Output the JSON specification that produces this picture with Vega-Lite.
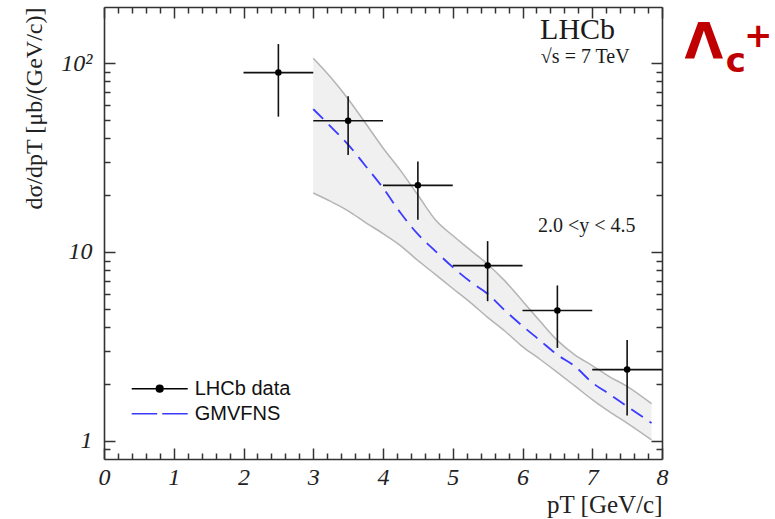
{
  "$schema": "https://vega.github.io/schema/vega-lite/v6.json",
  "width": 558,
  "height": 452,
  "autosize": {"type": "none"},
  "padding": {"left": 104, "top": 7, "right": 113, "bottom": 60},
  "background": "white",
  "config": {
    "view": {"stroke": null},
    "axis": {"grid": false, "labelFlush": false, "labelOverlap": false, "labelBound": false, "tickColor": "#333", "tickWidth": 1.5, "domainColor": "#333", "domainWidth": 1.6}
  },
  "datasets": {
    "pts": [
      {"pT": 2.5, "val": 89, "lo": 52, "hi": 126, "xlo": 2, "xhi": 3},
      {"pT": 3.5, "val": 49.5, "lo": 32.6, "hi": 66.6, "xlo": 3, "xhi": 4},
      {"pT": 4.5, "val": 22.5, "lo": 14.8, "hi": 30.1, "xlo": 4, "xhi": 5},
      {"pT": 5.5, "val": 8.46, "lo": 5.48, "hi": 11.4, "xlo": 5, "xhi": 6},
      {"pT": 6.5, "val": 4.89, "lo": 3.1, "hi": 6.64, "xlo": 6, "xhi": 7},
      {"pT": 7.5, "val": 2.38, "lo": 1.36, "hi": 3.41, "xlo": 7, "xhi": 8}
    ],
    "band": [
      {"pT": 3.0, "lo": 20.5, "mid": 57, "hi": 106},
      {"pT": 3.25, "lo": 18.5, "mid": 46.1, "hi": 84},
      {"pT": 3.5, "lo": 16.5, "mid": 37, "hi": 64.5},
      {"pT": 3.75, "lo": 14.3, "mid": 28.5, "hi": 48},
      {"pT": 4.0, "lo": 12.5, "mid": 21.8, "hi": 35.5},
      {"pT": 4.25, "lo": 10.8, "mid": 16.1, "hi": 27},
      {"pT": 4.5, "lo": 9.0, "mid": 12.4, "hi": 20},
      {"pT": 4.75, "lo": 7.6, "mid": 10.1, "hi": 14.8},
      {"pT": 5.0, "lo": 6.4, "mid": 8.3, "hi": 12.2},
      {"pT": 5.25, "lo": 5.4, "mid": 6.96, "hi": 10.25},
      {"pT": 5.5, "lo": 4.5, "mid": 6.0, "hi": 8.6},
      {"pT": 5.75, "lo": 3.8, "mid": 4.89, "hi": 7.0},
      {"pT": 6.0, "lo": 3.15, "mid": 4.05, "hi": 5.5},
      {"pT": 6.25, "lo": 2.7, "mid": 3.4, "hi": 4.3},
      {"pT": 6.5, "lo": 2.3, "mid": 2.85, "hi": 3.4},
      {"pT": 6.75, "lo": 1.95, "mid": 2.48, "hi": 2.85},
      {"pT": 7.0, "lo": 1.65, "mid": 2.03, "hi": 2.5},
      {"pT": 7.25, "lo": 1.42, "mid": 1.76, "hi": 2.18},
      {"pT": 7.5, "lo": 1.24, "mid": 1.52, "hi": 1.94},
      {"pT": 7.85, "lo": 1.01, "mid": 1.24, "hi": 1.57}
    ]
  },
  "layer": [
    {
      "data": {"name": "band"},
      "mark": {"type": "area", "color": "#f0f0f0", "opacity": 1, "interpolate": "monotone"},
      "encoding": {
        "x": {"field": "pT", "type": "quantitative", "scale": {"domain": [0, 8], "nice": false, "zero": false},
          "axis": {"orient": "bottom", "values": [0, 1, 2, 3, 4, 5, 6, 7, 8], "ticks": false, "domain": true,
            "labelFont": "Liberation Serif", "labelFontStyle": "italic", "labelFontSize": 24, "labelColor": "#222", "labelPadding": 6,
            "title": "pT [GeV/c]", "titleFont": "Liberation Serif", "titleFontSize": 25, "titleFontWeight": "normal", "titleColor": "#222",
            "titleX": 558, "titleY": 53, "titleAlign": "right", "titleBaseline": "alphabetic"}},
        "y": {"field": "lo", "type": "quantitative", "scale": {"type": "log", "domain": [0.8, 198], "nice": false},
          "axis": {"orient": "left", "values": [1, 10, 100], "ticks": false, "domain": true,
            "labelExpr": "datum.value == 100 ? '10²' : datum.value == 10 ? '10' : '1'",
            "labelFont": "Liberation Serif", "labelFontStyle": "italic", "labelFontSize": 24, "labelColor": "#222", "labelPadding": 12,
            "title": "dσ/dpT [μb/(GeV/c)]", "titleFont": "Liberation Serif", "titleFontSize": 24, "titleFontWeight": "normal", "titleColor": "#222",
            "titleX": -70, "titleY": 0, "titleAlign": "right", "titleAngle": 270, "titleBaseline": "middle"}},
        "y2": {"field": "hi"}
      }
    },
    {
      "data": {"name": "band"},
      "mark": {"type": "line", "color": "#b4b4b4", "strokeWidth": 1.5, "interpolate": "monotone"},
      "encoding": {
        "x": {"field": "pT", "type": "quantitative",
          "axis": {"orient": "bottom", "values": [0, 1, 2, 3, 4, 5, 6, 7, 8], "tickSize": -11, "labels": false, "domain": false, "title": null}},
        "y": {"field": "hi", "type": "quantitative",
          "axis": {"orient": "left", "values": [1, 10, 100], "tickSize": -11, "labels": false, "domain": false, "title": null}}
      }
    },
    {
      "data": {"name": "band"},
      "mark": {"type": "line", "color": "#b4b4b4", "strokeWidth": 1.5, "interpolate": "monotone"},
      "encoding": {
        "x": {"field": "pT", "type": "quantitative",
          "axis": {"orient": "bottom", "values": [0.2,0.4,0.6,0.8,1.2,1.4,1.6,1.8,2.2,2.4,2.6,2.8,3.2,3.4,3.6,3.8,4.2,4.4,4.6,4.8,5.2,5.4,5.6,5.8,6.2,6.4,6.6,6.8,7.2,7.4,7.6,7.8], "tickSize": -6, "labels": false, "domain": false, "title": null}},
        "y": {"field": "lo", "type": "quantitative",
          "axis": {"orient": "left", "values": [0.9,2,3,4,5,6,7,8,9,20,30,40,50,60,70,80,90], "tickSize": -6, "labels": false, "domain": false, "title": null}}
      }
    },
    {
      "data": {"name": "band"},
      "mark": {"type": "line", "strokeDash": [14, 8], "strokeWidth": 1.8, "interpolate": "monotone"},
      "encoding": {
        "x": {"field": "pT", "type": "quantitative",
          "axis": {"orient": "top", "values": [0, 1, 2, 3, 4, 5, 6, 7, 8], "tickSize": -11, "labels": false, "domain": true, "title": null}},
        "y": {"field": "mid", "type": "quantitative",
          "axis": {"orient": "right", "values": [1, 10, 100], "tickSize": -11, "labels": false, "domain": true, "title": null}},
        "color": {"datum": "GMVFNS", "type": "nominal",
          "scale": {"domain": ["LHCb data", "GMVFNS"], "range": ["#000000", "#3b3bff"]},
          "legend": {"title": null, "orient": "none", "legendX": 44.7, "legendY": 370.7, "padding": 0, "symbolSize": 400,
            "labelFont": "Liberation Sans", "labelFontSize": 20, "labelColor": "#111", "labelOffset": 24, "rowPadding": 4,
            "encode": {"symbols": {"update": {
              "shape": {"signal": "datum.value === 'GMVFNS' ? 'M-2.8,0H-0.25M0.25,0H2.8' : 'M-2.8,0H2.8M-0.33,0A0.33,0.33,0,1,1,0.33,0A0.33,0.33,0,1,1,-0.33,0Z'"},
              "fill": {"signal": "datum.value === 'GMVFNS' ? 'transparent' : '#000'"},
              "stroke": {"signal": "datum.value === 'GMVFNS' ? '#3b3bff' : '#000'"},
              "strokeWidth": {"value": 1.6},
              "strokeDash": {"value": []},
              "opacity": {"value": 1}}}}}}
      }
    },
    {
      "data": {"name": "pts"},
      "mark": {"type": "rule", "color": "#111", "strokeWidth": 1.6},
      "encoding": {
        "x": {"field": "pT", "type": "quantitative",
          "axis": {"orient": "top", "values": [0.2,0.4,0.6,0.8,1.2,1.4,1.6,1.8,2.2,2.4,2.6,2.8,3.2,3.4,3.6,3.8,4.2,4.4,4.6,4.8,5.2,5.4,5.6,5.8,6.2,6.4,6.6,6.8,7.2,7.4,7.6,7.8], "tickSize": -6, "labels": false, "domain": false, "title": null}},
        "y": {"field": "lo", "type": "quantitative",
          "axis": {"orient": "right", "values": [0.9,2,3,4,5,6,7,8,9,20,30,40,50,60,70,80,90], "tickSize": -6, "labels": false, "domain": false, "title": null}},
        "y2": {"field": "hi"}
      }
    },
    {
      "data": {"name": "pts"},
      "mark": {"type": "rule", "color": "#111", "strokeWidth": 1.6},
      "encoding": {
        "x": {"field": "xlo", "type": "quantitative", "axis": null},
        "x2": {"field": "xhi"},
        "y": {"field": "val", "type": "quantitative", "axis": null}
      }
    },
    {
      "data": {"name": "pts"},
      "mark": {"type": "point", "filled": true, "size": 42, "opacity": 1},
      "encoding": {
        "x": {"field": "pT", "type": "quantitative", "axis": null},
        "y": {"field": "val", "type": "quantitative", "axis": null},
        "color": {"datum": "LHCb data", "type": "nominal"}
      }
    },
    {
      "data": {"values": [{"t": "LHCb"}]},
      "mark": {"type": "text", "font": "Liberation Serif", "fontSize": 30, "color": "#1a1a1a", "align": "center", "baseline": "alphabetic"},
      "encoding": {
        "x": {"datum": 6.79, "type": "quantitative", "axis": null},
        "y": {"datum": 134, "type": "quantitative", "axis": null},
        "text": {"field": "t"}
      }
    },
    {
      "data": {"values": [{"t": "√s = 7 TeV"}]},
      "mark": {"type": "text", "font": "Liberation Serif", "fontSize": 20, "color": "#1a1a1a", "align": "center", "baseline": "alphabetic"},
      "encoding": {
        "x": {"datum": 6.9, "type": "quantitative", "axis": null},
        "y": {"datum": 100, "type": "quantitative", "axis": null},
        "text": {"field": "t"}
      }
    },
    {
      "data": {"values": [{"t": "2.0 <y < 4.5"}]},
      "mark": {"type": "text", "font": "Liberation Serif", "fontSize": 20, "color": "#1a1a1a", "align": "center", "baseline": "alphabetic"},
      "encoding": {
        "x": {"datum": 6.92, "type": "quantitative", "axis": null},
        "y": {"datum": 12.8, "type": "quantitative", "axis": null},
        "text": {"field": "t"}
      }
    },
    {
      "data": {"values": [{"t": "Λ"}]},
      "mark": {"type": "text", "font": "DejaVu Sans", "fontWeight": "bold", "fontSize": 50, "color": "#c00000", "align": "center", "baseline": "alphabetic"},
      "encoding": {
        "x": {"datum": 8.6, "type": "quantitative", "axis": null},
        "y": {"datum": 105.9, "type": "quantitative", "axis": null},
        "text": {"field": "t"}
      }
    },
    {
      "data": {"values": [{"t": "c"}]},
      "mark": {"type": "text", "font": "DejaVu Sans", "fontWeight": "bold", "fontSize": 34, "color": "#c00000", "align": "center", "baseline": "alphabetic"},
      "encoding": {
        "x": {"datum": 9.06, "type": "quantitative", "axis": null},
        "y": {"datum": 89.6, "type": "quantitative", "axis": null},
        "text": {"field": "t"}
      }
    },
    {
      "data": {"values": [{"t": "+"}]},
      "mark": {"type": "text", "font": "DejaVu Sans", "fontWeight": "bold", "fontSize": 34, "color": "#c00000", "align": "center", "baseline": "alphabetic"},
      "encoding": {
        "x": {"datum": 9.38, "type": "quantitative", "axis": null},
        "y": {"datum": 121.6, "type": "quantitative", "axis": null},
        "text": {"field": "t"}
      }
    }
  ],
  "resolve": {"axis": {"x": "independent", "y": "independent"}}
}
